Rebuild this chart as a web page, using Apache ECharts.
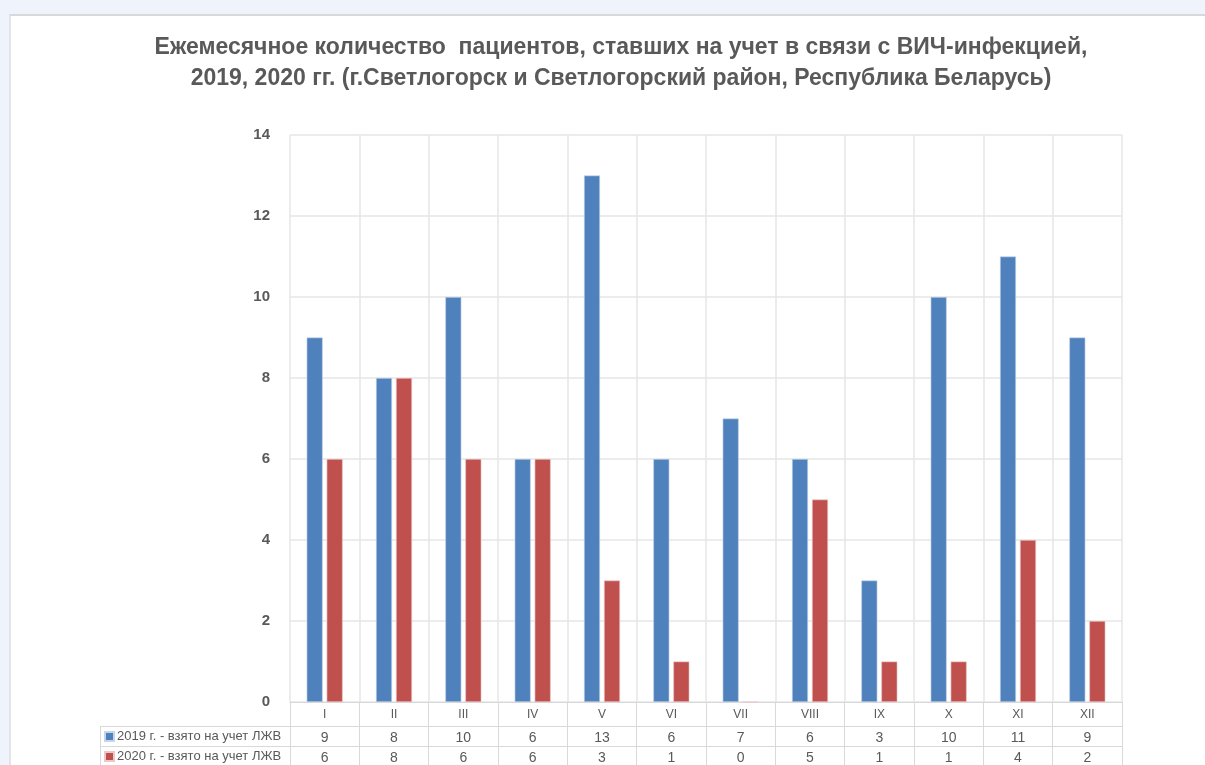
<!DOCTYPE html>
<html>
<head>
<meta charset="utf-8">
<script src="https://cdn.jsdelivr.net/npm/echarts@6/dist/echarts.min.js"></script>
<style>
  html, body { margin: 0; padding: 0; width: 1205px; height: 765px; overflow: hidden; background: #eff4fc; }
  #panel { position: absolute; left: 9px; top: 14px; right: 0; bottom: 0; background: #fff;
           border-top: 2px solid #d6d8dc; border-left: 2px solid #e2e4e8; }
  #chart { position: absolute; left: 0; top: 0; width: 1205px; height: 765px; }
</style>
</head>
<body>
<div id="panel"></div>
<div id="chart"></div>
<script>
// Months (Roman numerals) and patients registered per month
const months = ['I', 'II', 'III', 'IV', 'V', 'VI', 'VII', 'VIII', 'IX', 'X', 'XI', 'XII'];
const values2019 = [9, 8, 10, 6, 13, 6, 7, 6, 3, 10, 11, 9];
const values2020 = [6, 8, 6, 6, 3, 1, 0, 5, 1, 1, 4, 2];
const seriesNames = ['2019 г. - взято на учет ЛЖВ', '2020 г. - взято на учет ЛЖВ'];
const titleText = 'Ежемесячное количество  пациентов, ставших на учет в связи с ВИЧ-инфекцией,\n2019, 2020 гг. (г.Светлогорск и Светлогорский район, Республика Беларусь)';

const textColor = '#595959';
const lineColor = '#d9d9d9';
const tableFont = '"Liberation Sans", Arial, sans-serif';

// Rows of the data table under the plot: one x axis per row, sharing the month scale
function tableAxis(offset, labelFn, fontSize) {
  return {
    type: 'category',
    data: months,
    position: 'bottom',
    offset: offset,
    axisLine: { show: true, lineStyle: { color: lineColor, width: 1 } },
    axisTick: { show: true, length: 20, interval: 0, lineStyle: { color: lineColor, width: 1 } },
    axisLabel: { color: textColor, fontSize: fontSize, fontFamily: tableFont, margin: 5, interval: 0, formatter: labelFn },
    splitLine: { show: false }
  };
}

// One legend key per table row
function rowLegend(name, top) {
  return {
    left: 104,
    top: top,
    padding: 0,
    itemWidth: 9,
    itemHeight: 9,
    icon: 'rect',
    textStyle: { color: textColor, fontSize: 13, fontFamily: tableFont, padding: [0, 0, 0, -2] },
    data: [name]
  };
}

const chart = echarts.init(document.getElementById('chart'), null, { renderer: 'canvas' });
chart.setOption({
  backgroundColor: 'transparent',
  animation: false,
  title: {
    text: titleText,
    left: 616,
    top: 27,
    textAlign: 'center',
    textStyle: { color: textColor, fontSize: 23, fontWeight: 'bold', fontFamily: tableFont, lineHeight: 31 }
  },
  legend: [rowLegend(seriesNames[0], 730), rowLegend(seriesNames[1], 750)],
  grid: { left: 290, right: 83, top: 135, bottom: 63, containLabel: false },
  xAxis: [
    {
      type: 'category',
      data: months,
      position: 'bottom',
      axisLine: { show: true, lineStyle: { color: lineColor, width: 1 } },
      axisTick: { show: true, length: 24, interval: 0, lineStyle: { color: lineColor, width: 1 } },
      axisLabel: { color: textColor, fontSize: 12, fontFamily: tableFont, margin: 7, interval: 0 },
      splitLine: { show: true, interval: 0, lineStyle: { color: '#e6e6e6', width: 1.5 } }
    },
    tableAxis(24, (v, i) => String(values2019[i]), 14),
    tableAxis(44, (v, i) => String(values2020[i]), 14)
  ],
  yAxis: {
    type: 'value',
    min: 0,
    max: 14,
    interval: 2,
    axisLine: { show: false },
    axisTick: { show: false },
    axisLabel: { color: textColor, fontSize: 15, fontWeight: 'bold', fontFamily: tableFont, margin: 20 },
    splitLine: { show: true, lineStyle: { color: '#e6e6e6', width: 1.5 } }
  },
  series: [
    {
      name: seriesNames[0],
      type: 'bar',
      xAxisIndex: 0,
      data: values2019,
      barWidth: 16,
      barGap: '25%',
      itemStyle: { color: '#4f81bd', borderColor: '#c5d5ea', borderWidth: 0.6 }
    },
    {
      name: seriesNames[1],
      type: 'bar',
      xAxisIndex: 0,
      data: values2020,
      barWidth: 16,
      barGap: '25%',
      itemStyle: { color: '#c0504d', borderColor: '#ecc8c7', borderWidth: 0.6 }
    }
  ],
  graphic: [
    // left column of the data table holding the legend keys
    { type: 'line', silent: true, shape: { x1: 100, y1: 726.5, x2: 290, y2: 726.5 }, style: { stroke: lineColor, lineWidth: 1 } },
    { type: 'line', silent: true, shape: { x1: 100, y1: 746.5, x2: 290, y2: 746.5 }, style: { stroke: lineColor, lineWidth: 1 } },
    { type: 'line', silent: true, shape: { x1: 100.5, y1: 726.5, x2: 100.5, y2: 765 }, style: { stroke: lineColor, lineWidth: 1 } }
  ]
});
</script>
</body>
</html>
